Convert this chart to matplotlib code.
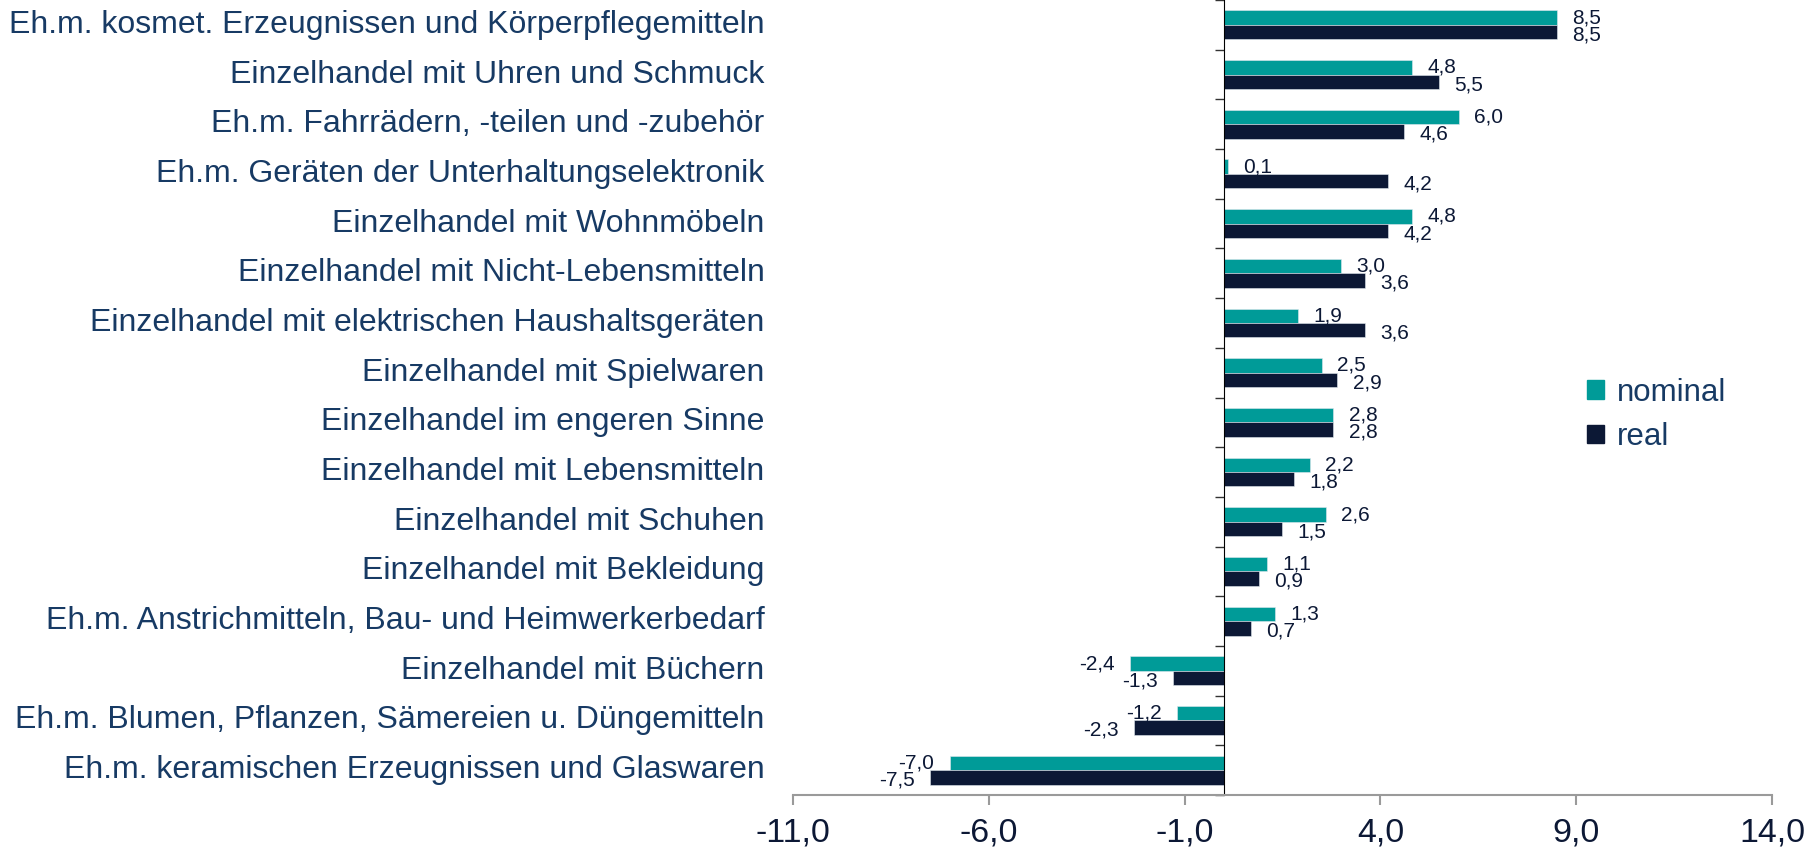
import numpy as np
import matplotlib.pyplot as plt
from matplotlib.patches import Patch
from matplotlib.ticker import FuncFormatter
import matplotlib.transforms as mtransforms

plt.rcParams['font.family'] = ['Liberation Sans', 'DejaVu Sans']

# Datos (de arriba hacia abajo)
categorias = [
    "Eh.m. kosmet. Erzeugnissen und Körperpflegemitteln",
    "Einzelhandel mit Uhren und Schmuck",
    "Eh.m. Fahrrädern, -teilen und -zubehör",
    "Eh.m. Geräten der Unterhaltungselektronik",
    "Einzelhandel mit Wohnmöbeln",
    "Einzelhandel mit Nicht-Lebensmitteln",
    "Einzelhandel mit elektrischen Haushaltsgeräten",
    "Einzelhandel mit Spielwaren",
    "Einzelhandel im engeren Sinne",
    "Einzelhandel mit Lebensmitteln",
    "Einzelhandel mit Schuhen",
    "Einzelhandel mit Bekleidung",
    "Eh.m. Anstrichmitteln, Bau- und Heimwerkerbedarf",
    "Einzelhandel mit Büchern",
    "Eh.m. Blumen, Pflanzen, Sämereien u. Düngemitteln",
    "Eh.m. keramischen Erzeugnissen und Glaswaren",
]
nominal = [8.5, 4.8, 6.0, 0.1, 4.8, 3.0, 1.9, 2.5, 2.8, 2.2, 2.6, 1.1, 1.3, -2.4, -1.2, -7.0]
real = [8.5, 5.5, 4.6, 4.2, 4.2, 3.6, 3.6, 2.9, 2.8, 1.8, 1.5, 0.9, 0.7, -1.3, -2.3, -7.5]
x_ticks = [-11, -6, -1, 4, 9, 14]

c_nom = '#009B98'
c_real = '#0C1835'
c_text = '#173A64'

fig = plt.figure(figsize=(18.16, 8.48), dpi=100)
ax = fig.add_axes([793 / 1816, 1 - 795 / 848, (1772 - 793) / 1816, 795 / 848])

y = np.arange(len(categorias))
h = 0.29
ax.barh(y - h / 2, nominal, height=h, color=c_nom, edgecolor='#dfe8ee', linewidth=0.4, label='nominal')
ax.barh(y + h / 2, real, height=h, color=c_real, edgecolor='#dfe8ee', linewidth=0.4, label='real')

# Etiquetas de datos
for i in range(len(categorias)):
    for val, dy, vy in ((nominal[i], -h / 2, 0), (real[i], h / 2, -2)):
        off = 11 if val >= 0 else -11
        ax.annotate(f"{val:.1f}".replace('.', ','), (val, y[i] + dy),
                    xytext=(off, vy), textcoords='offset points',
                    ha='left' if val >= 0 else 'right', va='center',
                    fontsize=15, color=c_real)

# Nombres de categorías a la izquierda del área del gráfico
trans = mtransforms.blended_transform_factory(ax.transAxes, ax.transData)
for i, cat in enumerate(categorias):
    ax.text(-0.029, y[i], cat, transform=trans, ha='right', va='center',
            fontsize=23, color=c_text)

ax.set_xlim(-11, 14)
ax.set_ylim(len(categorias) - 0.5, -0.5)
ax.set_xticks(x_ticks)
ax.xaxis.set_major_formatter(FuncFormatter(lambda v, p: f"{v:.1f}".replace('.', ',')))
ax.tick_params(axis='x', length=7, width=1.5, color='#9a9a9a', labelsize=24.5,
               labelcolor=c_real, pad=9)

ax.set_yticks(np.arange(len(categorias) + 1) - 0.5)
ax.set_yticklabels([])
ax.tick_params(axis='y', length=6.5, width=1, color='#333333')

ax.spines['left'].set_position(('data', 0))
ax.spines['left'].set_color('black')
ax.spines['bottom'].set_color('#9a9a9a')
ax.spines['bottom'].set_linewidth(1.5)
ax.spines['top'].set_visible(False)
ax.spines['right'].set_visible(False)

handles = [Patch(color=c_nom), Patch(color=c_real)]
leg = ax.legend(handles, ['nominal', 'real'], loc='center left',
                bbox_to_anchor=(1587 / 1816, 1 - 415 / 848), bbox_transform=fig.transFigure,
                frameon=False, fontsize=22.5, handlelength=0.55, handleheight=0.55,
                handletextpad=0.4, labelspacing=0.45, borderaxespad=0, borderpad=0)
for t in leg.get_texts():
    t.set_color(c_text)

fig.savefig('out.png', dpi=100)
